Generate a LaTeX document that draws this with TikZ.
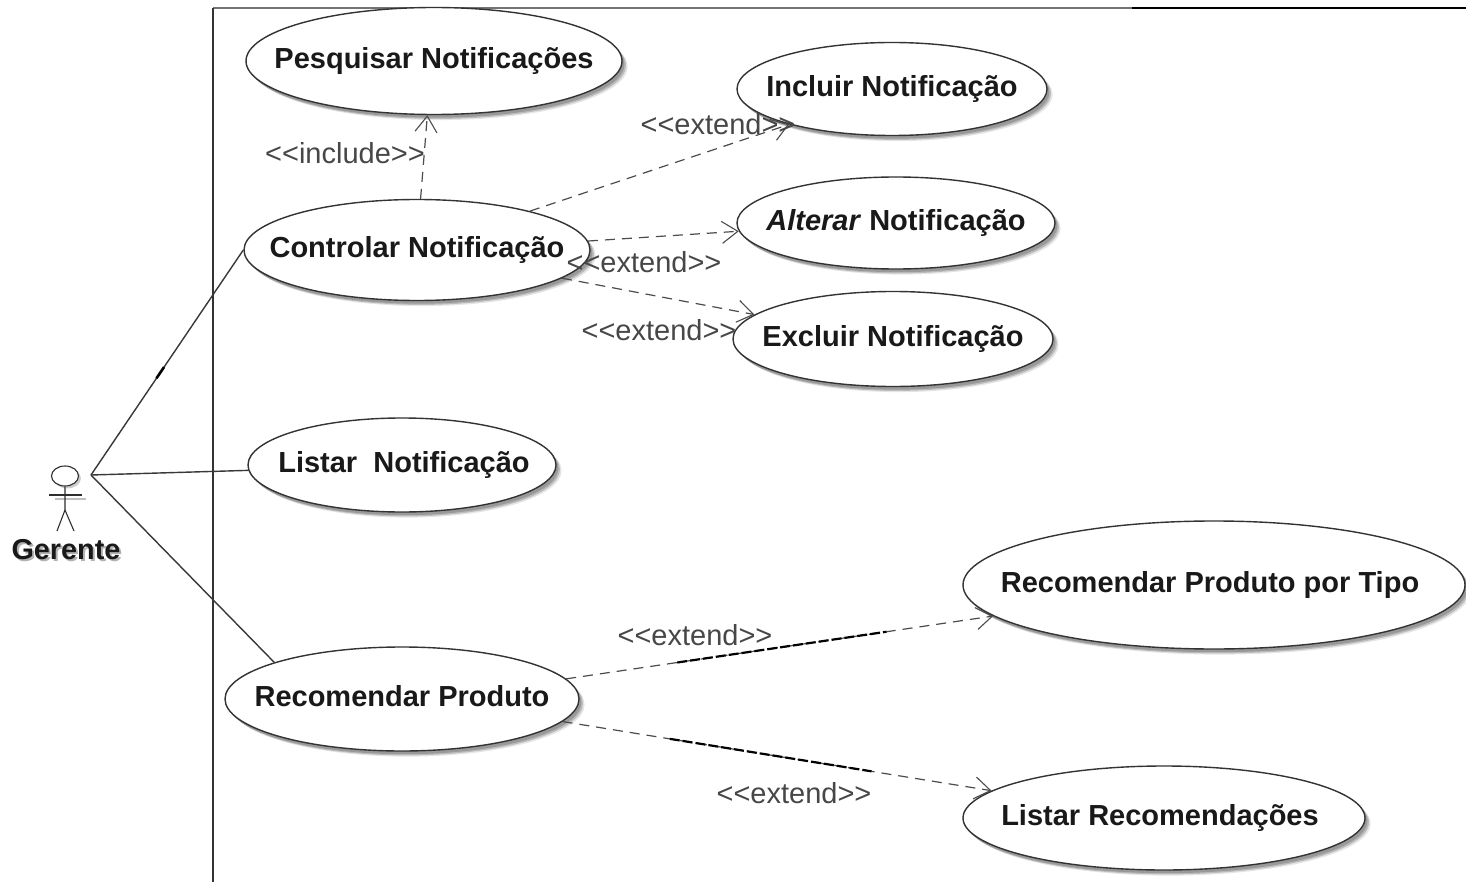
\documentclass[tikz,border=0pt]{standalone}
\usepackage{fontspec}
\setmainfont{Liberation Sans}
\usetikzlibrary{shapes.geometric,arrows.meta,shadows,calc}
\newcommand{\uctext}[1]{\makebox[0pt]{\raisebox{-3.6pt}[0pt][0pt]{\fontsize{14.5pt}{17pt}\selectfont\bfseries\color{black!90}#1}}}
\tikzset{
  x=0.5pt,y=0.5pt,
  uc/.style 2 args={ellipse,draw=black!80,line width=0.7pt,fill=white,inner sep=0pt,
    minimum width=#1*0.5pt,minimum height=#2*0.5pt,
    general shadow={shadow xshift=1.2pt,shadow yshift=-1.6pt,fill=black,opacity=.18},
    general shadow={shadow xshift=2pt,shadow yshift=-2.2pt,fill=black,opacity=.18},
    general shadow={shadow xshift=2.8pt,shadow yshift=-2.8pt,fill=black,opacity=.10}},
  assoc/.style={draw=black!78,line width=0.7pt},
  dep/.style={draw=black!70,line width=0.6pt,dashed,dash pattern=on 5pt off 3.5pt,
    -{Straight Barb[length=8pt,width=11pt,line width=0.55pt]}},
  heavy/.style={draw=black,line width=1.1pt,dash pattern=on 5pt off 1.5pt},
  steretype/.style={font=\fontsize{14.5pt}{17pt}\selectfont,text=black!72,inner sep=0pt},
  frameline/.style={draw=black!55,line width=0.6pt},
  stick/.style={draw=black!82,line width=0.55pt},
}
\begin{document}
\begin{tikzpicture}
\useasboundingbox[fill=white] (0,0) rectangle (1466,-882);
% frame
\coordinate (ftl) at (213,-8);
\coordinate (ftm) at (1132,-8);
\coordinate (ftr) at (1466,-8);
\coordinate (fb) at (213,-882);
\draw[frameline] (ftl) -- (ftm);
\draw[frameline,draw=black] (ftm) -- (ftr);
\draw[frameline,draw=black!80,line width=0.8pt] (ftl) -- (fb);
% use cases
\node[uc={376}{107}] (pesq) at (434,-61) {\uctext{Pesquisar Notificações}};
\node[uc={310}{93}] (incl) at (892,-89) {\uctext{Incluir Notificação}};
\node[uc={318}{92}] (alte) at (896,-223) {\uctext{\textit{Alterar} Notificação}};
\node[uc={320}{95}] (excl) at (893,-339) {\uctext{Excluir Notificação}};
\node[uc={346}{101}] (ctrl) at (417,-250) {\uctext{Controlar Notificação}};
\node[uc={308}{94}] (list) at (402,-465) {\uctext{\hspace*{2pt}Listar\ \ Notificação}};
\node[uc={354}{104}] (reco) at (402,-699) {\uctext{Recomendar Produto}};
\node[uc={502}{128}] (tipo) at (1214,-585) {\uctext{\hspace*{-4pt}Recomendar Produto por Tipo}};
\node[uc={402}{104}] (lrec) at (1164,-818) {\uctext{\hspace*{-4pt}Listar Recomendações}};
% actor
\node[ellipse,draw=black!82,line width=0.55pt,fill=white,inner sep=0pt,minimum width=13.5pt,minimum height=10pt,
  general shadow={shadow xshift=1.2pt,shadow yshift=-1.2pt,fill=black,opacity=.2}] (head) at (65,-476) {};
\coordinate (hip) at (65,-510);
\coordinate (lh) at (49,-495);
\coordinate (rh) at (82,-495);
\coordinate (lf) at (57,-531);
\coordinate (rf) at (74,-531);
\draw[black!25,line width=0.6pt] (55,-499) -- (86,-499);
\draw[stick] (head.south) -- (hip) -- (lf);
\draw[stick] (hip) -- (rf);
\draw[stick] (lh) -- (rh);
\node[inner sep=0pt,font=\fontsize{14.4pt}{17pt}\selectfont\bfseries,text=black!30] at (68,-552) {Gerente};
\node[inner sep=0pt,font=\fontsize{14.4pt}{17pt}\selectfont\bfseries,text=black!90] (gtxt) at (66,-550) {Gerente};
% associations
\coordinate (ger) at (91,-475);
\draw[assoc] (ger) -- (ctrl.west);
\draw[assoc] (ger) -- (list.182.2);
\draw[assoc] (ger) -- (reco.164.7);
\draw[draw=black,line width=1.3pt] ($(ger)!0.43!(ctrl.west)$) -- ($(ger)!0.48!(ctrl.west)$);
% dependencies
\draw[dep] (ctrl.86) -- (pesq.263);
\draw[dep] (ctrl.19) -- (incl.199);
\draw[dep] (ctrl.3.4) -- (alte.183.6);
\draw[dep] (ctrl.-11) -- (excl.170);
\draw[dep] (reco.7.8) -- (tipo.188.4);
\draw[dep] (reco.-8.9) -- (lrec.171);
\draw[heavy] ($(reco.7.8)!0.26!(tipo.188.4)$) -- ($(reco.7.8)!0.75!(tipo.188.4)$);
\draw[heavy] ($(reco.-8.9)!0.25!(lrec.171)$) -- ($(reco.-8.9)!0.72!(lrec.171)$);
% stereotype labels
\node[steretype] (l1) at (345,-153) {<{}<include>{}>};
\node[steretype] (l2) at (718,-124) {<{}<extend>{}>};
\node[steretype] (l3) at (644,-262) {<{}<extend>{}>};
\node[steretype] (l4) at (659,-330) {<{}<extend>{}>};
\node[steretype] (l5) at (695,-635) {<{}<extend>{}>};
\node[steretype] (l6) at (794,-793) {<{}<extend>{}>};
\end{tikzpicture}
\end{document}
